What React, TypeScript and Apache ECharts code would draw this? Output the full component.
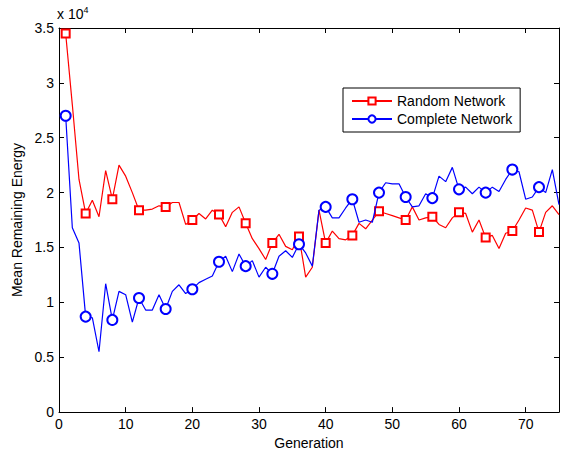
import React, { useEffect, useRef } from "react";
import * as echarts from "echarts";

const randomNetwork = [
  34500, 28000, 21200, 18100, 19300, 17800, 22000, 19400, 22500, 21500,
  20000, 18400, 18400, 18500, 18800, 18700, 19100, 19100, 17100, 17500,
  18100, 17600, 18400, 18000, 16900, 18200, 18700, 17200, 15800, 14900,
  13900, 15400, 16200, 15100, 14800, 16000, 12300, 13200, 18400, 15400,
  16500, 15800, 15700, 16100, 17200, 16700, 17500, 18300, 18100, 17900,
  17700, 17500, 18700, 17500, 17700, 17800, 17100, 16800, 17700, 18200,
  18100, 16400, 17500, 15900, 16100, 14900, 16300, 16500, 17500, 18600,
  18400, 16400, 18200, 18800, 18000,
];

const completeNetwork = [
  27000, 16800, 15400, 8700, 8600, 5500, 11700, 8400, 11000, 10700,
  8200, 10400, 9300, 9300, 10700, 9400, 11000, 11600, 10800, 11200,
  11800, 12100, 12400, 13700, 14200, 12800, 14400, 13300, 13800, 12300,
  13200, 12600, 14200, 14700, 14100, 15300, 14500, 13300, 18400, 18700,
  17700, 17700, 18600, 19400, 17300, 17500, 17300, 20000, 20900, 20800,
  20800, 19600, 18700, 18800, 19900, 19500, 21500, 21000, 22300, 20300,
  20500, 19900, 20500, 20000, 20500, 20100, 21200, 22100, 21900, 19400,
  19600, 20500, 20000, 22100, 18900,
];

const markerGenerations = [1, 4, 8, 12, 16, 20, 24, 28, 32, 36, 40, 44, 48, 52, 56, 60, 64, 68, 72];
const xTicks = [0, 10, 20, 30, 40, 50, 60, 70];
const seriesNames = ["Random Network", "Complete Network"];

const FONT = "'Liberation Sans', Arial, Helvetica, sans-serif";
const FS = 14;

function buildData(values: number[]) {
  return values.map((v, i) => {
    const gen = i + 1;
    const item: any = { value: [gen, v] };
    if (!markerGenerations.includes(gen)) item.symbol = "none";
    return item;
  });
}

export default function App() {
  const ref = useRef<HTMLDivElement>(null);

  useEffect(() => {
    document.body.style.margin = "0";
    if (!ref.current) return;
    const chart = echarts.init(ref.current, null, { renderer: "svg" });
    const axisLine = { show: true, onZero: false, lineStyle: { color: "#000", width: 1 } };
    const axisTick = { show: true, inside: true, length: 5, lineStyle: { color: "#000" } };
    const option: any = {
      animation: false,
      backgroundColor: "#fff",
      textStyle: { fontFamily: FONT },
      grid: { left: 59, right: 4, top: 28, bottom: 41 },
      legend: {
        data: seriesNames,
        orient: "vertical",
        left: 343,
        top: 88,
        itemWidth: 40,
        itemHeight: 9,
        itemGap: 4,
        padding: [6, 8, 6, 8],
        borderColor: "#000",
        borderWidth: 1,
        backgroundColor: "#fff",
        textStyle: { fontFamily: FONT, fontSize: FS, color: "#000" },
      },
      xAxis: [
        {
          type: "value",
          min: 0,
          max: 75,
          interval: 10,
          position: "bottom",
          axisLine,
          axisTick,
          axisLabel: {
            color: "#000",
            fontSize: FS,
            fontFamily: FONT,
            margin: 5,
            showMaxLabel: false,
            formatter: (v: number) => (xTicks.includes(v) ? String(v) : ""),
          },
          splitLine: { show: false },
          name: "Generation",
          nameLocation: "middle",
          nameGap: 22,
          nameTextStyle: { color: "#000", fontSize: FS, fontFamily: FONT },
        },
        {
          type: "value",
          min: 0,
          max: 75,
          interval: 10,
          position: "top",
          axisLine,
          axisTick,
          axisLabel: { show: false },
          splitLine: { show: false },
        },
      ],
      yAxis: [
        {
          type: "value",
          min: 0,
          max: 35000,
          interval: 5000,
          position: "left",
          axisLine,
          axisTick,
          axisLabel: {
            color: "#000",
            fontSize: FS,
            fontFamily: FONT,
            margin: 5,
            formatter: (v: number) => String(v / 10000),
          },
          splitLine: { show: false },
          name: "Mean Remaining Energy",
          nameLocation: "middle",
          nameGap: 32,
          nameTextStyle: { color: "#000", fontSize: FS, fontFamily: FONT },
        },
        {
          type: "value",
          min: 0,
          max: 35000,
          interval: 5000,
          position: "right",
          axisLine,
          axisTick,
          axisLabel: { show: false },
          splitLine: { show: false },
        },
      ],
      graphic: [
        {
          type: "text",
          left: 57,
          top: 5,
          style: {
            text: "{a|x 10}{b|4}",
            rich: {
              a: { fontSize: FS, fontFamily: FONT, fill: "#000" },
              b: { fontSize: 9, fontFamily: FONT, fill: "#000", verticalAlign: "top", padding: [0, 0, 8, 0] },
            },
          },
        },
      ],
      series: [
        {
          name: seriesNames[0],
          type: "line",
          xAxisIndex: 0,
          yAxisIndex: 0,
          data: buildData(randomNetwork),
          symbol: "emptyRect",
          symbolSize: 8,
          showSymbol: true,
          showAllSymbol: true,
          color: "#ff0000",
          lineStyle: { color: "#ff0000", width: 1.2 },
          itemStyle: { color: "#ff0000", borderColor: "#ff0000", borderWidth: 1.2 },
          z: 3,
        },
        {
          name: seriesNames[1],
          type: "line",
          xAxisIndex: 0,
          yAxisIndex: 0,
          data: buildData(completeNetwork),
          symbol: "emptyCircle",
          symbolSize: 10,
          showSymbol: true,
          showAllSymbol: true,
          color: "#0000ff",
          lineStyle: { color: "#0000ff", width: 1.2 },
          itemStyle: { color: "#0000ff", borderColor: "#0000ff", borderWidth: 1.2 },
          z: 4,
        },
      ],
    };
    chart.setOption(option);
    return () => chart.dispose();
  }, []);

  return <div ref={ref} style={{ width: 563, height: 455 }} />;
}
